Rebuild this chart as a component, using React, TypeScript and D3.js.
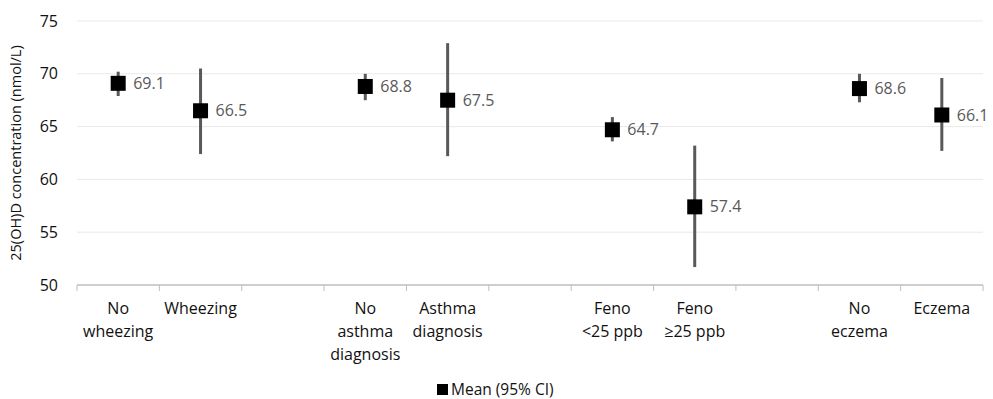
import React from 'react';
import * as d3 from 'd3';

// 11 slots, gaps between groups are empty
const categories = [
  ['No', 'wheezing'], ['Wheezing'], [],
  ['No', 'asthma', 'diagnosis'], ['Asthma', 'diagnosis'], [],
  ['Feno', '<25 ppb'], ['Feno', '≥25 ppb'], [],
  ['No', 'eczema'], ['Eczema'],
];
const means: (number | null)[] = [69.1, 66.5, null, 68.8, 67.5, null, 64.7, 57.4, null, 68.6, 66.1];
const lower: (number | null)[] = [67.9, 62.4, null, 67.5, 62.2, null, 63.6, 51.7, null, 67.3, 62.7];
const upper: (number | null)[] = [70.2, 70.5, null, 70.0, 72.9, null, 65.9, 63.2, null, 70.0, 69.6];
const yTicks = [50, 55, 60, 65, 70, 75];

const W = 993, H = 399;
const margin = { top: 21, right: 10, bottom: 114, left: 77 };
const FONT = "'Open Sans', 'Noto Sans', sans-serif";

export default function App() {
  const innerW = W - margin.left - margin.right;
  const innerH = H - margin.top - margin.bottom;
  const x = d3.scaleBand<number>().domain(d3.range(categories.length)).range([0, innerW]).padding(0);
  const y = d3.scaleLinear().domain([50, 75]).range([innerH, 0]);
  const bw = x.bandwidth();

  return (
    <svg width={W} height={H} style={{ position: 'absolute', left: 0, top: 0, fontFamily: FONT }}>
      <g transform={`translate(${margin.left},${margin.top})`}>
        {yTicks.map(t => (
          <g key={t}>
            {t !== 50 && <line x1={0} x2={innerW} y1={y(t)} y2={y(t)} stroke="#e9e9e9" strokeWidth={1} />}
            <text x={-19} y={y(t)} dy="0.35em" textAnchor="end" fontSize={16} fill="#111">{t}</text>
          </g>
        ))}
        <line x1={0} x2={innerW} y1={innerH} y2={innerH} stroke="#bfbfbf" strokeWidth={1.5} />
        {d3.range(categories.length + 1).map(i => {
          const tx = i < categories.length ? x(i)! : innerW;
          return <line key={i} x1={tx} x2={tx} y1={innerH} y2={innerH + 6} stroke="#bfbfbf" strokeWidth={1} />;
        })}
        {categories.map((lines, i) => (
          <text key={i} x={x(i)! + bw / 2} textAnchor="middle" fontSize={16} fill="#111">
            {lines.map((l, j) => (
              <tspan key={j} x={x(i)! + bw / 2} y={innerH + 29 + j * 23}>{l}</tspan>
            ))}
          </text>
        ))}
        {means.map((m, i) => {
          if (m == null) return null;
          const cx = x(i)! + bw / 2;
          return (
            <g key={i}>
              <line x1={cx} x2={cx} y1={y(upper[i]!)} y2={y(lower[i]!)} stroke="#595959" strokeWidth={3} />
              <rect x={cx - 7.5} y={y(m) - 7.5} width={15} height={15} fill="#000" />
              <text x={cx + 15} y={y(m)} dy="0.35em" fontSize={16} fill="#595959">{m.toFixed(1)}</text>
            </g>
          );
        })}
      </g>
      <text transform={`translate(16,${margin.top + innerH / 2}) rotate(-90)`} textAnchor="middle" dy="0.35em" fontSize={14.5} fill="#111">
        25(OH)D concentration (nmol/L)
      </text>
      <g transform="translate(437,383)">
        <rect x={0} y={1} width={11} height={11} fill="#000" />
        <text x={14} y={7} dy="0.35em" fontSize={15.5} fill="#111">Mean (95% CI)</text>
      </g>
    </svg>
  );
}
